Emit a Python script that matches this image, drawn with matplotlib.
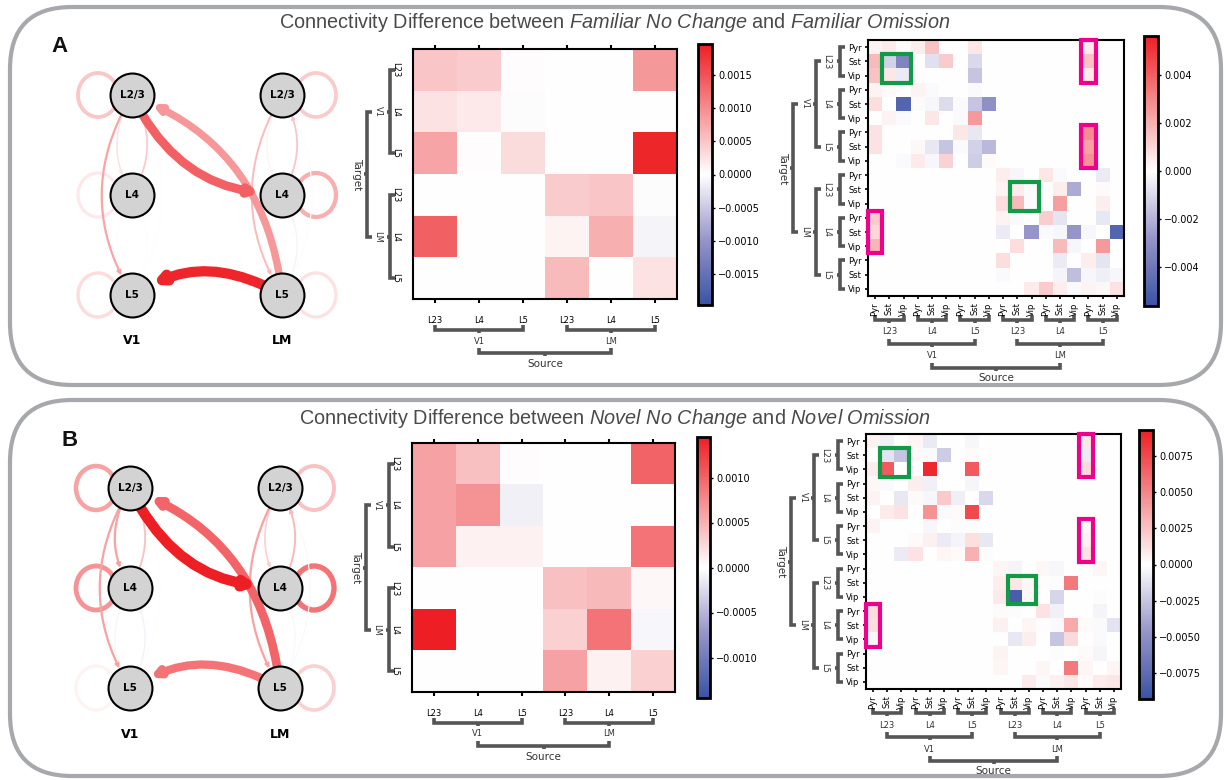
import matplotlib
matplotlib.use('Agg')
import matplotlib.pyplot as plt
import numpy as np
from matplotlib.colors import LinearSegmentedColormap, Normalize
from matplotlib.patches import FancyArrowPatch, Ellipse, Rectangle, FancyBboxPatch

W, H = 1226, 780

areas = ['V1', 'LM']
layers = ['L23', 'L4', 'L5']
node_names = ['L2/3', 'L4', 'L5']
cell_types = ['Pyr', 'Sst', 'Vip']
panel_letters = ['A', 'B']
conds = [('Familiar No Change', 'Familiar Omission'),
         ('Novel No Change', 'Novel Omission')]

# layer-level difference, rows = target, cols = source (V1 L23, L4, L5, LM L23, L4, L5)
layer_a = [
    [0.00050, 0.00045, 0.00002, 0, 0, 0.00090],
    [0.00025, 0.00020, -0.00003, 0, 0, 0],
    [0.00080, 0.00002, 0.00030, 0, 0, 0.00190],
    [0, 0, 0, 0.00045, 0.00050, -0.00003],
    [0.00140, 0, 0, 0.00010, 0.00070, -0.00010],
    [0, 0, 0, 0.00060, 0, 0.00025],
]
layer_b = [
    [0.00060, 0.00040, 0.00002, 0, 0, 0.00100],
    [0.00060, 0.00070, -0.00010, 0, 0, 0],
    [0.00060, 0.00008, 0.00008, 0, 0, 0.00090],
    [0, 0, 0, 0.00040, 0.00045, 0.00005],
    [0.00145, 0, 0, 0.00030, 0.00090, -0.00005],
    [0, 0, 0, 0.00060, 0.00008, 0.00030],
]

# cell-type level difference (x 1e-3), rows = target, cols = source
cell_a = [
    [0.3, 0.5, 0.1, 0.4, 1.5, 0, 0, 0.6, 0, 0, 0, 0, 0, 0, 0, 0.5, 0, 0],
    [1.7, -1.2, -3.5, 0, -0.8, 1.3, 0, -1.0, 0, 0, 0, 0, 0, 0, 0, 1.5, 0, 0],
    [1.5, 0.6, -0.5, 0, 0, 0, 0, -1.5, 0, 0, 0, 0, 0, 0, 0, 0.5, 0, 0],
    [0.3, 0.1, 0, 0.3, -0.1, 0, 0, -0.1, 0, 0, 0, 0, 0, 0, 0, 0, 0, 0],
    [0.8, 0, -4.8, 0.1, -0.2, -0.9, -0.1, -1.5, -3.0, 0, 0, 0, 0, 0, 0, 0, 0, 0],
    [0, 0.3, -0.1, 0, 0.6, 0, -0.1, 2.5, 0, 0, 0, 0, 0, 0, 0, 0, 0, 0],
    [0.7, 0, 0, 0, 0, 0, 0.6, -0.6, 0, 0, 0, 0, 0, 0, 0, 2.8, 0, 0],
    [0.7, 0, 0, 0.2, -0.6, -1.5, -0.1, -1.2, -1.8, 0, 0, 0, 0, 0, 0, 2.3, 0, 0],
    [0, 0, -0.1, 0.5, -0.2, 1.1, 0, -1.3, 0.1, 0, 0, 0, 0, 0, 0, 2.7, 0, 0],
    [0, 0, 0, 0, 0, 0, 0, 0, 0, 0.4, -0.2, 0, 0.6, -0.1, 0, 0, -0.5, 0],
    [0, 0, 0, 0, 0, 0, 0, 0, 0, 0.3, 0.5, -0.1, 0, 0.4, -2.2, 0, 0.1, 0],
    [0, 0, 0, 0, 0, 0, 0, 0, 0, 0.8, 1.7, -0.1, 0, 2.4, 0, 0, 0.4, 0],
    [1.3, 0, 0, 0, 0, 0, 0, 0, 0, 0.3, -0.1, 0, 1.2, -0.7, 0, 0, -0.6, 0],
    [1.0, 0, 0, 0, 0, 0, 0, 0, 0, -0.5, 0, -2.8, -0.1, -0.2, -2.8, -0.2, 0, -4.8],
    [1.8, 0, 0, 0, 0, 0, 0, 0, 0, 0, 0.8, 0, 0, 1.7, -0.2, 0, 2.5, 0],
    [0, 0, 0, 0, 0, 0, 0, 0, 0, 0.8, 0, 0, 0, -0.5, 0, 0.4, -0.7, 0],
    [0, 0, 0, 0, 0, 0, 0, 0, 0, -0.1, 0, 0, 0, -0.3, -1.7, -0.2, -0.4, -0.2],
    [0, 0, 0, 0, 0, 0, 0, 0, 0, 0, 0, 0.5, 1.3, 0.4, -0.1, 0.3, 0.2, 0.7],
]
cell_b = [
    [0.5, -0.6, 0, 0.4, -0.9, 0, 0, -0.3, 0, 0, 0, 0, 0, 0, 0, 1.0, 0, 0],
    [0, -1.2, -2.5, 0.2, -0.2, -2.2, 0, 0.2, 0, 0, 0, 0, 0, 0, 0, -0.8, 0, 0],
    [0.7, 6.8, 0, 0, 8.8, 0, 0, 6.8, 0, 0, 0, 0, 0, 0, 0, 1.5, 0, 0],
    [0.3, -0.2, 0, 0.7, -0.6, 0, 0, -0.4, 0, 0, 0, 0, 0, 0, 0, 0, 0, 0],
    [0.5, 0, -1.0, 0.2, -0.3, 2.2, -0.7, 0, -1.7, 0, 0, 0, 0, 0, 0, 0, 0, 0],
    [0, 0.8, 1.2, 0, 4.5, -0.2, 0.2, 7.5, 0, 0, 0, 0, 0, 0, 0, 0, 0, 0],
    [0.5, 0, 0, 0, -0.3, 0, -0.1, -0.1, 0, 0, 0, 0, 0, 0, 0, 0.4, 0, 0],
    [0, 0, 0, 0.2, 0.6, -0.8, -0.5, 1.3, -1.0, 0, 0, 0, 0, 0, 0, 0.6, 0, 0],
    [0, 0, -0.8, 1.2, 0, 0.4, 0.2, 3.2, -0.1, 0, 0, 0, 0, 0, 0, 1.2, 0, 0],
    [0, 0, 0, 0, 0, 0, 0, 0, 0, 0.4, -0.5, 0, 0.3, -0.3, 0, 0, 0.4, 0],
    [0, 0, 0, 0, 0, 0, 0, 0, 0, 0.7, 1.0, 0.4, 0.1, -0.1, 5.5, 0, 0, 0],
    [0, 0, 0, 0, 0, 0, 0, 0, 0, 0.9, -8.5, 0.3, 0, -1.8, 0, 0, -0.1, 0],
    [1.4, 0, 0, 0, 0, 0, 0, 0, 0, 0.2, -0.1, 0, 1.2, -0.6, 0, 0, -0.5, 0],
    [1.3, 0, 0, 0, 0, 0, 0, 0, 0, 0.6, 0, 0.4, 0.1, -0.2, 3.5, 0.2, -0.2, -1.2],
    [-0.3, 0, 0, 0, 0, 0, 0, 0, 0, 0, -1.0, 0.7, 0, -2.5, 1.5, 0, -0.2, 0],
    [0, 0, 0, 0, 0, 0, 0, 0, 0, 0.5, 0, 0, 0, -0.1, 0, 0.2, -0.4, 0],
    [0, 0, 0, 0, 0, 0, 0, 0, 0, 0.4, 0, 0, 0.4, 0, 5.5, 0.4, 0, 0.4],
    [0, 0, 0, 0, 0, 0, 0, 0, 0, 0, 0, 0.8, -0.2, 0.6, 1.0, 0.2, 0.8, 1.0],
]

vmax_layer = [0.00197, 0.00145]
vmax_cell = [0.0056, 0.0093]
ticks_layer = [[-0.0015, -0.0010, -0.0005, 0, 0.0005, 0.0010, 0.0015],
               [-0.0010, -0.0005, 0, 0.0005, 0.0010]]
ticks_cell = [[-0.004, -0.002, 0, 0.002, 0.004],
              [-0.0075, -0.0050, -0.0025, 0, 0.0025, 0.0050, 0.0075]]
tick_decimals_cell = [3, 4]

# highlighted cells: (row, col, nrows, ncols)
green_boxes = [(1, 1, 2, 2), (10, 10, 2, 2)]
pink_boxes = [(0, 15, 3, 1), (6, 15, 3, 1), (12, 0, 3, 1)]

cmap = LinearSegmentedColormap.from_list(
    'diff', [(0, '#3a53a4'), (0.25, '#9695c9'), (0.5, '#ffffff'),
             (0.75, '#f58f91'), (1, '#ed1f24')])

BR = '#555555'
TITLE_FONT = ['Liberation Sans', 'DejaVu Sans']
plt.rcParams['mathtext.fontset'] = 'custom'
plt.rcParams['mathtext.it'] = 'Liberation Sans:italic'
plt.rcParams['mathtext.rm'] = 'Liberation Sans'

fig = plt.figure(figsize=(W / 100, H / 100), dpi=100)
ov = fig.add_axes([0, 0, 1, 1])
ov.set_xlim(0, W)
ov.set_ylim(H, 0)
ov.axis('off')


def px_axes(x0, y0, x1, y1):
    return fig.add_axes([x0 / W, 1 - y1 / H, (x1 - x0) / W, (y1 - y0) / H])


def to_px(ax, x, y):
    d = ax.transData.transform((x, y))
    return d[0], H - d[1]


def vbracket(x, y0, y1, label, lx, fs=6, stub=5):
    ov.plot([x + stub, x, x, x + stub], [y0, y0, y1, y1], color=BR, lw=2.6,
            solid_joinstyle='miter', solid_capstyle='butt')
    ym = (y0 + y1) / 2
    ov.plot([x, x - 3], [ym, ym], color=BR, lw=2.6, solid_capstyle='butt')
    ov.text(lx, ym, label, rotation=270, ha='center', va='center', fontsize=fs, color='#333333')


def hbracket(y, x0, x1, label, ly, fs=6, stub=5):
    ov.plot([x0, x0, x1, x1], [y - stub, y, y, y - stub], color=BR, lw=2.6,
            solid_joinstyle='miter', solid_capstyle='butt')
    xm = (x0 + x1) / 2
    ov.plot([xm, xm], [y, y + 3], color=BR, lw=2.6, solid_capstyle='butt')
    ov.text(xm, ly, label, ha='center', va='center', fontsize=fs, color='#333333')


def fmt(t, d):
    s = f'{abs(t):.{d}f}'
    return ('\u2212' + s) if t < 0 else s


def draw_network(ax, M, vmax, label_y):
    ax.set_xlim(-0.5, 1.5)
    ax.set_ylim(-0.5, 2.5)
    ax.axis('off')
    norm = Normalize(-vmax, vmax)
    pos = [(a, 2 - l) for a in range(2) for l in range(3)]
    order = sorted((abs(M[t][s]), t, s) for t in range(6) for s in range(6))
    for mag, t, s in order:
        v = M[t][s]
        if v == 0:
            continue
        color = cmap(norm(v))
        r = mag / vmax
        if t == s:
            side = -1 if pos[t][0] == 0 else 1
            ax.add_patch(Ellipse((pos[t][0] + side * 34 / 150, pos[t][1]), 40 / 150, 44 / 100,
                                 fill=False, ec=color, lw=2 + 3 * r, zorder=1))
        else:
            cross = (t // 3) != (s // 3)
            lw = (3.5 + 4 * r) if cross else (0.8 + 2 * r)
            ax.add_patch(FancyArrowPatch(pos[s], pos[t], connectionstyle='arc3,rad=0.3',
                                         arrowstyle='-|>', mutation_scale=4 + lw, lw=lw,
                                         color=color, shrinkA=16, shrinkB=16, zorder=2))
    xs = [p[0] for p in pos]
    ys = [p[1] for p in pos]
    ax.scatter(xs, ys, s=1000, c='#d3d3d3', edgecolors='black', linewidths=1.5, zorder=3)
    for i, p in enumerate(pos):
        ax.text(p[0], p[1], node_names[i % 3], ha='center', va='center',
                fontsize=7.5, fontweight='bold', zorder=4)
    for a in range(2):
        ax.text(a, label_y, areas[a], ha='center', va='center', fontsize=9, fontweight='bold')


def style_cbar(cb, ticks, d):
    cb.set_ticks(ticks)
    cb.set_ticklabels([fmt(t, d) for t in ticks])
    cb.outline.set_linewidth(2)
    cb.ax.tick_params(labelsize=7, length=2.5, width=1, pad=2)


panels = [
    dict(frame=(10, 7, 1221, 385), title_y=23, letter=(60, 47),
         net=(57, 45, 357, 345), net_label=-0.45,
         mid=(413, 49, 677, 299), mid_cb=(698, 44, 712, 305),
         cell=(868, 40, 1124, 296), cell_cb=(1144, 36, 1158, 306),
         layer=layer_a, cell_m=cell_a),
    dict(frame=(10, 400, 1221, 776), title_y=418, letter=(70, 440),
         net=(55, 438, 355, 738), net_label=-0.47,
         mid=(412, 443, 675, 692), mid_cb=(697, 437, 710, 698),
         cell=(866, 434, 1121, 689), cell_cb=(1139, 430, 1153, 699),
         layer=layer_b, cell_m=cell_b),
]

for k, P in enumerate(panels):
    x0, y0, x1, y1 = P['frame']
    ov.add_patch(FancyBboxPatch((x0, y0), x1 - x0, y1 - y0,
                                boxstyle='round,pad=0,rounding_size=62',
                                fill=False, ec='#a6a8ab', lw=3))
    a, b = conds[k]
    ov.text(615, P['title_y'],
            'Connectivity Difference between $\\mathit{' + a.replace(' ', '\\ ') +
            '}$ and $\\mathit{' + b.replace(' ', '\\ ') + '}$',
            ha='center', va='center', fontsize=14.3, color='#4a4a4a', family=TITLE_FONT)
    ov.text(*P['letter'], panel_letters[k], ha='center', va='center', fontsize=16,
            fontweight='bold', family=TITLE_FONT, color='#111111')

    # network diagram
    nax = px_axes(*P['net'])
    nax.patch.set_alpha(0)
    draw_network(nax, P['layer'], vmax_layer[k], P['net_label'])

    # layer-level heatmap
    M = np.array(P['layer'])
    ax = px_axes(*P['mid'])
    im = ax.imshow(M, cmap=cmap, vmin=-vmax_layer[k], vmax=vmax_layer[k],
                   aspect='auto', interpolation='nearest')
    ax.set_xticks(range(6))
    ax.set_xticklabels(layers * 2, fontsize=6)
    ax.set_yticks(range(6))
    ax.set_yticklabels(layers * 2, fontsize=6, rotation=270, va='center')
    ax.tick_params(axis='x', top=True, length=3, width=1.5, pad=9)
    ax.tick_params(axis='y', length=0, pad=9)
    for sp in ax.spines.values():
        sp.set_linewidth(1.5)
    cax = px_axes(*P['mid_cb'])
    cb = fig.colorbar(im, cax=cax)
    style_cbar(cb, ticks_layer[k], 4)

    L, T, R, B = P['mid']
    cy = [to_px(ax, 0, i)[1] for i in range(6)]
    cx = [to_px(ax, j, 0)[0] for j in range(6)]
    for g in range(2):
        vbracket(L - 23, cy[3 * g], cy[3 * g + 2], areas[g], L - 35)
        hbracket(B + 31, cx[3 * g], cx[3 * g + 2], areas[g], B + 42)
    vbracket(L - 46, cy[1], cy[4], 'Target', L - 56, fs=7.5)
    hbracket(B + 54, cx[1], cx[4], 'Source', B + 65, fs=7.5)

    # cell-type heatmap
    C = np.array(P['cell_m']) * 1e-3
    ax2 = px_axes(*P['cell'])
    im2 = ax2.imshow(C, cmap=cmap, vmin=-vmax_cell[k], vmax=vmax_cell[k],
                     aspect='auto', interpolation='nearest')
    ax2.set_xticks(range(18))
    ax2.set_xticklabels(cell_types * 6, fontsize=6, rotation=90)
    ax2.set_yticks(range(18))
    ax2.set_yticklabels(cell_types * 6, fontsize=6)
    ax2.tick_params(length=2.5, width=1.2, pad=2)
    for sp in ax2.spines.values():
        sp.set_linewidth(1.5)
    for (r, c, nr, nc) in green_boxes:
        ax2.add_patch(Rectangle((c - 0.5, r - 0.5), nc, nr, fill=False, ec='#139a48',
                                lw=3, clip_on=False, zorder=5))
    for (r, c, nr, nc) in pink_boxes:
        ax2.add_patch(Rectangle((c - 0.5, r - 0.5), nc, nr, fill=False, ec='#ec008c',
                                lw=3, clip_on=False, zorder=5))
    cax2 = px_axes(*P['cell_cb'])
    cb2 = fig.colorbar(im2, cax=cax2)
    style_cbar(cb2, ticks_cell[k], tick_decimals_cell[k])

    L, T, R, B = P['cell']
    cy = [to_px(ax2, 0, i)[1] for i in range(18)]
    cx = [to_px(ax2, j, 0)[0] for j in range(18)]
    for g in range(6):
        vbracket(L - 28, cy[3 * g], cy[3 * g + 2], layers[g % 3], L - 41)
        hbracket(B + 24, cx[3 * g], cx[3 * g + 2], layers[g % 3], B + 36)
    for g in range(2):
        vbracket(L - 52, cy[9 * g + 1], cy[9 * g + 7], areas[g], L - 63)
        hbracket(B + 48, cx[9 * g + 1], cx[9 * g + 7], areas[g], B + 60)
    vbracket(L - 75, cy[4], cy[13], 'Target', L - 85, fs=7.5)
    hbracket(B + 72, cx[4], cx[13], 'Source', B + 82, fs=7.5)

fig.savefig('out.png', dpi=100)
